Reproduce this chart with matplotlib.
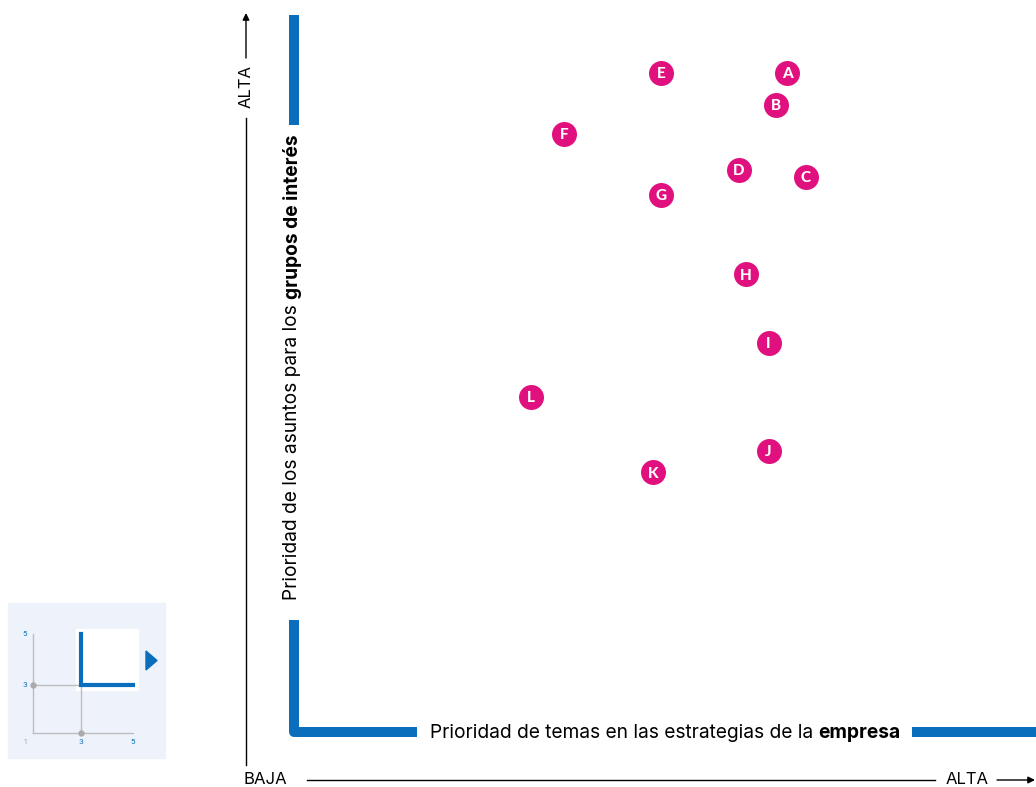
import matplotlib
matplotlib.use("Agg")
import matplotlib.pyplot as plt
from matplotlib.patches import Rectangle, Polygon

plt.rcParams['font.family'] = ['Inter', 'DejaVu Sans']

# ---- data ----
labels = ["A", "B", "C", "D", "E", "F", "G", "H", "I", "J", "K", "L"]
x_empresa = [4.33, 4.30, 4.38, 4.20, 3.99, 3.73, 3.99, 4.22, 4.28, 4.28, 3.97, 3.64]
y_grupos = [4.84, 4.75, 4.55, 4.57, 4.84, 4.67, 4.50, 4.28, 4.09, 3.79, 3.73, 3.94]

x_title_pre = "Prioridad de temas en las estrategias de la "
x_title_bold = "empresa"
y_title_pre = "Prioridad de los asuntos para los "
y_title_bold = "grupos de interés"

BLUE = "#0A6EBD"
PINK = "#E0117F"
W, H = 1036, 787
FS = 13.8

fig = plt.figure(figsize=(W / 100, H / 100), dpi=100)
bg = fig.add_axes([0, 0, 1, 1])
bg.set_xlim(0, W)
bg.set_ylim(H, 0)
bg.axis("off")

# ---- outer axis arrows ----
bg.plot([246, 246], [118, 765], color="black", lw=1)
bg.annotate("", xy=(246, 13), xytext=(246, 58), annotation_clip=False,
            arrowprops=dict(arrowstyle="-|>", lw=1, color="black", mutation_scale=10, shrinkA=0, shrinkB=0))
bg.text(246, 87, "ALTA", rotation=90, ha="center", va="center", fontsize=12)
bg.text(265, 780, "BAJA", ha="center", va="center", fontsize=12)
bg.plot([307, 935], [780, 780], color="black", lw=1)
bg.text(967, 780, "ALTA", ha="center", va="center", fontsize=12)
bg.annotate("", xy=(1035, 780), xytext=(997, 780), annotation_clip=False,
            arrowprops=dict(arrowstyle="-|>", lw=1, color="black", mutation_scale=10, shrinkA=0, shrinkB=0))

# ---- blue L frame ----
lw_blue = 10 * 72 / 100
bg.plot([294, 294, 417], [620, 732, 732], color=BLUE, lw=lw_blue,
        solid_joinstyle="round", solid_capstyle="butt")
bg.plot([294, 294], [15, 125], color=BLUE, lw=lw_blue, solid_capstyle="butt")
bg.plot([912, 1040], [732, 732], color=BLUE, lw=lw_blue, solid_capstyle="butt")

# axis titles with bold parts
t1 = bg.text(430, 733, x_title_pre, ha="left", va="center", fontsize=FS)
fig.canvas.draw()
r = fig.canvas.get_renderer()
bb = t1.get_window_extent(r)
bg.text(430 + bb.width, 733, x_title_bold, ha="left", va="center", fontsize=FS, fontweight="bold")

t2 = bg.text(292, 600, y_title_pre, ha="center", va="bottom", rotation=90, fontsize=FS)
fig.canvas.draw()
bb2 = t2.get_window_extent(r)
bg.text(292, 600 - bb2.height, y_title_bold, ha="center", va="bottom", rotation=90,
        fontsize=FS, fontweight="bold")

# ---- inset ----
bg.add_patch(Rectangle((8, 603), 157, 155, color="#EEF2FA", zorder=1))
bg.add_patch(Rectangle((76, 629), 62, 61, color="white", zorder=2))
gray = "#BDBDBD"
bg.plot([33, 33], [634, 733], color=gray, lw=1, zorder=3)
bg.plot([33, 133], [733, 733], color=gray, lw=1, zorder=3)
bg.plot([33, 81], [685, 685], color=gray, lw=1, zorder=3)
bg.plot([81, 81], [685, 733], color=gray, lw=1, zorder=3)
bg.plot([33, 81], [685, 733], ls="none", marker="o", ms=3.5, color="#AAAAAA", zorder=4)
bg.plot([81, 81, 133], [634, 685, 685], color=BLUE, lw=3, solid_joinstyle="miter", zorder=5)
for tx, ty, s, c in [(25, 634, "5", BLUE), (25, 685, "3", BLUE), (25, 742, "1", "#AAAAAA"),
                     (81, 742, "3", BLUE), (133, 742, "5", BLUE)]:
    bg.text(tx, ty, s, ha="center", va="center", fontsize=5.5, color=c, zorder=5)
bg.add_patch(Polygon([[146, 651], [146, 670], [157, 660.5]], closed=True, color=BLUE, zorder=5))

# ---- data axes ----
ax = fig.add_axes([293 / W, (H - 735) / H, 743 / W, 720 / H])
ax.set_xlim(3, 5)
ax.set_ylim(3, 5)
ax.axis("off")
ax.scatter(x_empresa, y_grupos, s=(25 * 0.72) ** 2, color=PINK, zorder=5, clip_on=False, linewidths=0)
for lab, xv, yv in zip(labels, x_empresa, y_grupos):
    ax.text(xv, yv, lab, ha="center", va="center_baseline", color="white", fontsize=11,
            family=["Lato", "DejaVu Sans"], fontweight="black", zorder=6)

fig.savefig("out.png", dpi=100)
